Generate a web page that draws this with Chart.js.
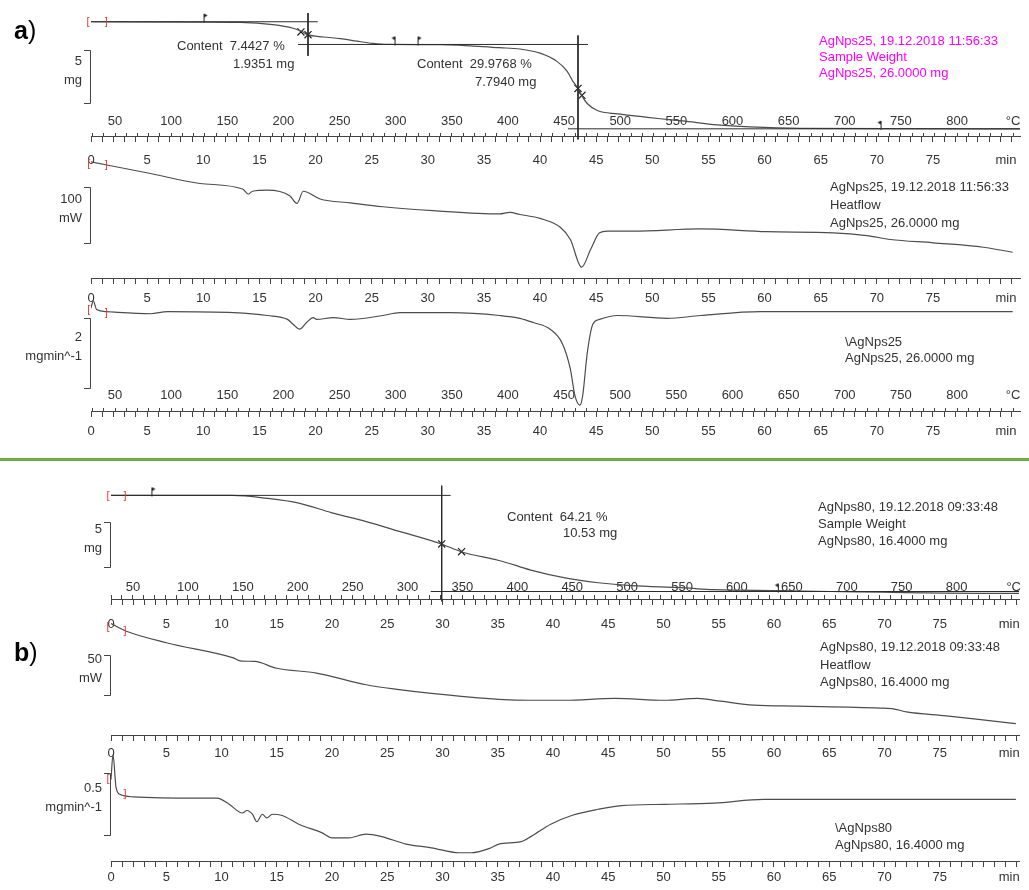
<!DOCTYPE html>
<html>
<head>
<meta charset="utf-8">
<title>TGA / DSC – AgNps25, AgNps80</title>
<script src="https://cdn.jsdelivr.net/npm/chart.js@4.4.1/dist/chart.umd.min.js"></script>
<style>
  html, body { margin: 0; padding: 0; background: #fff; }
  #page { position: relative; width: 1029px; height: 890px; overflow: hidden; font-family: "Liberation Sans", Arial, sans-serif; }
  #page canvas { position: absolute; left: 0; }
  .txt { position: absolute; font-size: 13px; line-height: 16px; color: #333; white-space: pre; }
  .mag { color: #f0f; }
  .tag { position: absolute; left: 14px; font-size: 25px; line-height: 28px; color: #000; }
  .sep { position: absolute; left: 0; top: 458px; width: 1029px; height: 3px; background: #70ad47; }
</style>
</head>
<body>
<div id="page">
  <canvas id="chart-a" width="1029" height="456" style="top:0"></canvas>
  <div class="sep"></div>
  <canvas id="chart-b" width="1029" height="428" style="top:462px"></canvas>

  <div class="tag" style="top:16px"><b>a</b>)</div>
  <div class="txt" style="left:177px;top:38px">Content  7.4427 %</div>
  <div class="txt" style="left:233px;top:56px">1.9351 mg</div>
  <div class="txt" style="left:417px;top:56px">Content  29.9768 %</div>
  <div class="txt" style="left:475px;top:74px">7.7940 mg</div>
  <div class="txt mag" style="left:819px;top:33px">AgNps25, 19.12.2018 11:56:33
Sample Weight
AgNps25, 26.0000 mg</div>
  <div class="txt" style="left:830px;top:178px;line-height:18px">AgNps25, 19.12.2018 11:56:33
Heatflow
AgNps25, 26.0000 mg</div>
  <div class="txt" style="left:845px;top:334px">\AgNps25
AgNps25, 26.0000 mg</div>

  <div class="tag" style="top:638px"><b>b</b>)</div>
  <div class="txt" style="left:507px;top:509px">Content  64.21 %</div>
  <div class="txt" style="left:563px;top:525px">10.53 mg</div>
  <div class="txt" style="left:818px;top:498px;line-height:17px">AgNps80, 19.12.2018 09:33:48
Sample Weight
AgNps80, 16.4000 mg</div>
  <div class="txt" style="left:820px;top:638px;line-height:17.5px">AgNps80, 19.12.2018 09:33:48
Heatflow
AgNps80, 16.4000 mg</div>
  <div class="txt" style="left:835px;top:819px;line-height:17px">\AgNps80
AgNps80, 16.4000 mg</div>
</div>

<script>
// Two STA runs (TG / heat flow / DTG) drawn on a shared time axis.
// Time in min, T in °C.

var minuteTicks = [0, 5, 10, 15, 20, 25, 30, 35, 40, 45, 50, 55, 60, 65, 70, 75];
var celsiusTicks = [50, 100, 150, 200, 250, 300, 350, 400, 450, 500, 550, 600, 650, 700, 750, 800];

// ── a) AgNps25, 26.0000 mg ───────────────────────────────────────────────────
var tgA_t  = [0, 9.7, 13.3, 16.2, 18.0, 18.8, 19.3, 20.7, 22.2, 23.7, 25.1, 26.4, 31.1, 36.4, 38.2, 40.0, 41.5, 42.4, 42.9, 43.4, 43.7, 44.2, 45.1, 46.9, 48.9, 50.7, 52.7, 55.8, 58.7, 63.2, 82.75];
var tgA_mg = [26.0, 25.97, 25.94, 25.72, 25.38, 25.07, 24.77, 24.55, 24.40, 24.15, 23.94, 23.84, 23.82, 23.53, 23.41, 23.01, 22.23, 21.31, 20.38, 19.61, 18.99, 18.22, 17.55, 17.23, 16.99, 16.77, 16.56, 16.19, 16.00, 15.86, 15.81];

var hfA_t  = [0, 5.3, 9.7, 13.5, 14.0, 14.4, 15.7, 17.7, 18.35, 18.9, 20.4, 23.1, 26.0, 30.5, 36.4, 37.3, 38.2, 40.0, 41.8, 42.7, 43.7, 44.5, 45.3, 46.0, 48.3, 54.3, 60.2, 66.1, 69.1, 71.2, 75.0, 79.5, 82.1];
var hfA_mW = [0, -21, -39, -49, -58, -53, -51, -61, -75, -53, -67, -74, -81, -88, -94, -91, -95, -102, -118, -140, -190, -158, -128, -125, -125, -121, -126, -128, -133, -140, -146, -154, -163];

var dtgA_t = [0, 0.2, 0.5, 1.4, 5.3, 6.8, 12.7, 15.7, 17.5, 18.0, 18.6, 19.2, 19.8, 20.1, 21.6, 23.1, 26.0, 27.5, 32.0, 36.4, 38.2, 39.4, 40.9, 42.0, 42.7, 43.1, 43.55, 43.8, 44.2, 44.7, 45.3, 46.9, 51.3, 54.3, 59.6, 66.1, 82.1];
var dtgA_v = [0.1, 0.31, 0.06, 0, -0.06, 0, -0.03, -0.11, -0.22, -0.36, -0.50, -0.31, -0.17, -0.22, -0.17, -0.22, -0.11, -0.03, -0.03, -0.11, -0.19, -0.31, -0.50, -0.92, -1.64, -2.39, -2.67, -2.39, -1.19, -0.36, -0.22, -0.11, -0.19, -0.11, 0, 0, 0];

// step evaluation: baselines, onset verticals, X marks, flags
var tanA_t  = [[0, 20.2], [19.33, 19.33], [18.44, 44.27], [43.38, 43.38], [42.49, 82.75]];
var tanA_mg = [[26.0, 26.0], [26.83, 22.76], [23.84, 23.84], [24.70, 14.8], [15.81, 15.81]];
var markA_t  = [18.70, 19.33, 43.38, 43.73];
var markA_mg = [25.03, 24.77, 19.65, 19.0];
var flagA_t   = [10.07, 27.08, 29.13, 70.37];
var flagA_mg  = [26.0, 23.84, 23.84, 15.81];
var flagA_dir = [1, -1, 1, -1];

// ── b) AgNps80, 16.4000 mg ───────────────────────────────────────────────────
var tgB_t  = [0, 11.0, 14.1, 17.0, 20.0, 23.1, 26.1, 29.9, 31.7, 35.1, 36.9, 38.0, 41.1, 44.1, 47.1, 51.6, 54.6, 60.6, 65.1, 81.3, 82.2];
var tgB_mg = [16.4, 16.4, 16.08, 15.55, 14.49, 13.53, 12.46, 11.08, 10.23, 9.27, 8.63, 8.21, 7.36, 6.83, 6.51, 6.29, 6.08, 5.97, 5.87, 5.66, 5.66];

var hfB_t  = [0, 1.4, 5.1, 11.0, 11.8, 13.0, 15.0, 18.6, 23.1, 26.1, 29.0, 35.1, 38.0, 41.1, 45.6, 50.1, 53.1, 55.2, 58.2, 62.1, 69.6, 70.9, 72.0, 75.6, 79.5, 81.9];
var hfB_mW = [0, -9.5, -23.8, -41.7, -46.0, -46.4, -54.8, -60.7, -75.0, -81.0, -85.7, -92.9, -94.0, -94.0, -91.7, -94.0, -91.7, -95.2, -100.0, -101.2, -103.6, -104.8, -108.3, -113.1, -119.0, -122.6];

var dtgB_t = [0, 0.18, 0.45, 0.8, 2.0, 8.0, 9.6, 10.7, 11.9, 12.3, 12.8, 13.2, 13.7, 14.1, 14.6, 15.5, 17.0, 19.1, 20.0, 21.5, 23.1, 24.5, 26.7, 29.0, 31.5, 32.6, 34.4, 35.1, 37.1, 38.0, 39.8, 41.7, 44.1, 46.2, 50.1, 54.6, 59.1, 65.1, 81.9];
var dtgB_v = [0.16, 0.36, 0.10, 0.04, 0.02, 0.01, 0.01, -0.04, -0.11, -0.09, -0.12, -0.18, -0.12, -0.15, -0.12, -0.13, -0.20, -0.27, -0.31, -0.31, -0.28, -0.30, -0.36, -0.39, -0.43, -0.43, -0.39, -0.36, -0.34, -0.30, -0.20, -0.13, -0.08, -0.05, -0.04, -0.03, 0, 0, 0];

var tanB_t  = [[0, 30.74], [29.93, 29.93], [28.94, 82.2]];
var tanB_mg = [[16.4, 16.4], [17.46, 4.8], [5.87, 5.87]];
var markB_t  = [29.93, 31.73];
var markB_mg = [11.08, 10.23];
var flagB_t   = [3.70, 60.4];
var flagB_mg  = [16.4, 5.87];
var flagB_dir = [1, -1];

// ── helpers ──────────────────────────────────────────────────────────────────
var INK = '#333';
var AXIS = '#444';
var FONT = { family: '"Liberation Sans", Arial, sans-serif', size: 13 };

function steps(a, b, step) {
  var out = [];
  for (var v = a; v <= b + 1e-9; v += step) out.push(Math.round(v * 100) / 100);
  return out;
}
function series(t, v) { return t.map(function(x, i) { return { x: x, y: v[i] }; }); }

// y range so that value v0 sits p0 px below the canvas top at k px per unit
function yFit(v0, p0, k, H) {
  return { type: 'linear', axis: 'y', display: false, min: v0 - (H - p0) / k, max: v0 + p0 / k };
}

function flagIcon(dir) {
  var c = document.createElement('canvas');
  c.width = 11; c.height = 20;
  var g = c.getContext('2d');
  g.fillStyle = '#1e1e1e';
  g.fillRect(5, 2, 1, 9);
  g.beginPath();
  if (dir > 0) { g.moveTo(6, 2); g.lineTo(9, 3.5); g.lineTo(6, 5.5); }
  else { g.moveTo(5, 2); g.lineTo(2, 3.5); g.lineTo(5, 5.5); }
  g.closePath();
  g.fill();
  return c;
}
var FLAG_R = flagIcon(1), FLAG_L = flagIcon(-1);

function curve(t, v, yId) {
  return { data: series(t, v), xAxisID: 't', yAxisID: yId, borderColor: '#4d4d4d', borderWidth: 1.2,
    pointRadius: 0, fill: false, cubicInterpolationMode: 'monotone' };
}
function segments(ts, vs, yId) {
  return ts.map(function(t, i) {
    return { data: series(t, vs[i]), xAxisID: 't', yAxisID: yId, borderColor: '#2b2b2b', borderWidth: 1,
      pointRadius: 0, tension: 0 };
  });
}
function crosses(t, v, yId) {
  return { data: series(t, v), xAxisID: 't', yAxisID: yId, showLine: false, pointStyle: 'crossRot',
    pointRadius: 5, borderColor: '#222', borderWidth: 1.2 };
}
function flags(t, v, dir, yId) {
  return { data: series(t, v), xAxisID: 't', yAxisID: yId, showLine: false, pointRadius: 3,
    pointStyle: dir.map(function(d) { return d > 0 ? FLAG_R : FLAG_L; }) };
}

// time axis: line + downward ticks every minute, labels every 5 min and a unit label
function minuteAxis(py, pad, tMax, unitAt) {
  return {
    type: 'linear', axis: 'x', position: { py: py }, min: 0, max: tMax,
    border: { display: true, color: AXIS, width: 1 },
    grid: { display: true, drawOnChartArea: false, drawTicks: true, tickLength: 5,
      tickColor: function(c) { return c.tick && Number.isInteger(c.tick.value) ? AXIS : 'rgba(0,0,0,0)'; } },
    afterBuildTicks: function(s) {
      s.ticks = steps(0, Math.floor(tMax), 1).concat([unitAt]).sort(function(a, b) { return a - b; })
        .map(function(v) { return { value: v }; });
    },
    ticks: { autoSkip: false, maxRotation: 0, minRotation: 0, padding: pad, color: INK, font: FONT,
      callback: function(v) { return minuteTicks.indexOf(v) >= 0 ? String(v) : (v === unitAt ? 'min' : ''); } }
  };
}
// temperature labels (sit above the time axis line)
function celsiusLabels(py, cMin, cMax, unitAt) {
  return {
    type: 'linear', axis: 'x', position: { py: py }, min: cMin, max: cMax,
    border: { display: false }, grid: { display: false, drawTicks: false },
    afterBuildTicks: function(s) {
      s.ticks = celsiusTicks.concat([unitAt]).map(function(v) { return { value: v }; });
    },
    ticks: { autoSkip: false, maxRotation: 0, minRotation: 0, padding: 0, color: INK, font: FONT,
      callback: function(v) { return v === unitAt ? '°C' : String(v); } }
  };
}
// temperature ticks every 10 °C, pointing up into the time axis line
function celsiusMarks(py, cMin, cMax) {
  return {
    type: 'linear', axis: 'x', position: { py: py }, min: cMin, max: cMax,
    border: { display: false },
    grid: { display: true, drawOnChartArea: false, drawTicks: true, tickLength: 4, color: AXIS },
    afterBuildTicks: function(s) {
      s.ticks = steps(30, 850, 10).map(function(v) { return { value: v }; });
    },
    ticks: { display: false }
  };
}

// scale brackets ("5 mg") and the red integration-range marks
var decorPlugin = {
  id: 'decor',
  afterDraw: function(chart, args, opts) {
    var ctx = chart.ctx, left = chart.chartArea.left, xs = chart.scales.t;
    ctx.save();
    ctx.lineWidth = 1;
    ctx.strokeStyle = AXIS;
    (opts.bars || []).forEach(function(b) {
      var ys = chart.scales[b.axis];
      var y0 = Math.round(ys.getPixelForValue(b.from)) + 0.5;
      var y1 = Math.round(ys.getPixelForValue(b.to)) + 0.5;
      ctx.beginPath();
      ctx.moveTo(left - 7, y0); ctx.lineTo(left - 0.5, y0);
      ctx.lineTo(left - 0.5, y1); ctx.lineTo(left - 7, y1);
      ctx.stroke();
      var mid = (y0 + y1) / 2 - 7;
      ctx.fillStyle = INK;
      ctx.font = '13px "Liberation Sans", Arial, sans-serif';
      ctx.textAlign = 'right';
      ctx.textBaseline = 'middle';
      ctx.fillText(b.text[0], left - 9, mid - 9);
      ctx.fillText(b.text[1], left - 9, mid + 10);
    });
    ctx.fillStyle = '#e53935';
    ctx.font = '11px "Liberation Sans", Arial, sans-serif';
    ctx.textAlign = 'center';
    ctx.textBaseline = 'middle';
    (opts.marks || []).forEach(function(m) {
      var ys = chart.scales[m[0]];
      ctx.fillText('[', xs.getPixelForValue(m[1]), ys.getPixelForValue(m[2]));
      ctx.fillText(']', xs.getPixelForValue(m[3]), ys.getPixelForValue(m[4]));
    });
    ctx.restore();
  }
};

function makePanel(elId, p) {
  var scales = {
    py: { type: 'linear', axis: 'y', display: false, reverse: true, min: 0, max: p.H },
    t: { type: 'linear', axis: 'x', display: false, min: 0, max: p.tMax },
    yTG: yFit(p.tg[0], p.tg[1], p.tg[2], p.H),
    yHF: yFit(p.hf[0], p.hf[1], p.hf[2], p.H),
    yDTG: yFit(p.dtg[0], p.dtg[1], p.dtg[2], p.H)
  };
  p.axes.forEach(function(a, i) { scales['ax' + i] = a; });

  var datasets = []
    .concat(segments(p.tanT, p.tanV, 'yTG'))
    .concat([curve(p.tgT, p.tgV, 'yTG'), curve(p.hfT, p.hfV, 'yHF'), curve(p.dtgT, p.dtgV, 'yDTG')])
    .concat([crosses(p.markT, p.markV, 'yTG'), flags(p.flagT, p.flagV, p.flagDir, 'yTG')]);

  return new Chart(document.getElementById(elId), {
    type: 'line',
    data: { datasets: datasets },
    options: {
      responsive: false, animation: false, events: [],
      layout: { padding: { left: p.left, right: p.right, top: 0, bottom: 0 } },
      plugins: { legend: { display: false }, tooltip: { enabled: false },
        decor: { bars: p.bars, marks: p.marks } },
      scales: scales
    },
    plugins: [decorPlugin]
  });
}

// panel a: 0 min at x=91, 82.75 min at x=1020; T = 28.6 + 10 t
makePanel('chart-a', {
  H: 456, left: 91, right: 9, tMax: 82.75,
  tg: [26, 16, 10.8], hf: [0, 160, 0.57], dtg: [0, 314, 36],
  tgT: tgA_t, tgV: tgA_mg, hfT: hfA_t, hfV: hfA_mW, dtgT: dtgA_t, dtgV: dtgA_v,
  tanT: tanA_t, tanV: tanA_mg, markT: markA_t, markV: markA_mg,
  flagT: flagA_t, flagV: flagA_mg, flagDir: flagA_dir,
  axes: [
    celsiusLabels(110, 28.6, 856.1, 850), celsiusMarks(130, 28.6, 856.1), minuteAxis(134, 11, 82.75, 81.5),
    minuteAxis(280, 7, 82.75, 81.5),
    celsiusLabels(392, 28.6, 856.1, 850), celsiusMarks(413, 28.6, 856.1), minuteAxis(417, 7, 82.75, 81.5)
  ],
  bars: [
    { axis: 'yTG', from: 23.31, to: 18.31, text: ['5', 'mg'] },
    { axis: 'yHF', from: -45.6, to: -145.6, text: ['100', 'mW'] },
    { axis: 'yDTG', from: -0.194, to: -2.194, text: ['2', 'mgmin^-1'] }
  ],
  marks: [['yTG', -0.27, 26.0, 1.35, 26.0], ['yHF', -0.2, -3.5, 1.35, -5.3], ['yDTG', -0.2, 0.06, 1.35, -0.03]]
});

// panel b: 0 min at x=111, 82.2 min at x=1023; T = 30 + 10 t
makePanel('chart-b', {
  H: 428, left: 111, right: 6, tMax: 82.2,
  tg: [16.4, 28, 9.4], hf: [0, 160, 0.84], dtg: [0, 341, 128],
  tgT: tgB_t, tgV: tgB_mg, hfT: hfB_t, hfV: hfB_mW, dtgT: dtgB_t, dtgV: dtgB_v,
  tanT: tanB_t, tanV: tanB_mg, markT: markB_t, markV: markB_mg,
  flagT: flagB_t, flagV: flagB_mg, flagDir: flagB_dir,
  axes: [
    celsiusLabels(115, 30, 857, 852), celsiusMarks(131, 30, 857), minuteAxis(135, 12, 82.2, 81.3),
    minuteAxis(275, 5, 82.2, 81.3),
    minuteAxis(405, 3, 82.2, 81.3)
  ],
  bars: [
    { axis: 'yTG', from: 13.53, to: 8.53, text: ['5', 'mg'] },
    { axis: 'yHF', from: -38.1, to: -88.1, text: ['50', 'mW'] },
    { axis: 'yDTG', from: 0.211, to: -0.289, text: ['0.5', 'mgmin^-1'] }
  ],
  marks: [['yTG', -0.27, 16.3, 1.26, 16.3], ['yHF', -0.27, -3.6, 1.26, -9.5], ['yDTG', -0.27, 0.16, 1.26, 0.04]]
});
</script>
</body>
</html>
